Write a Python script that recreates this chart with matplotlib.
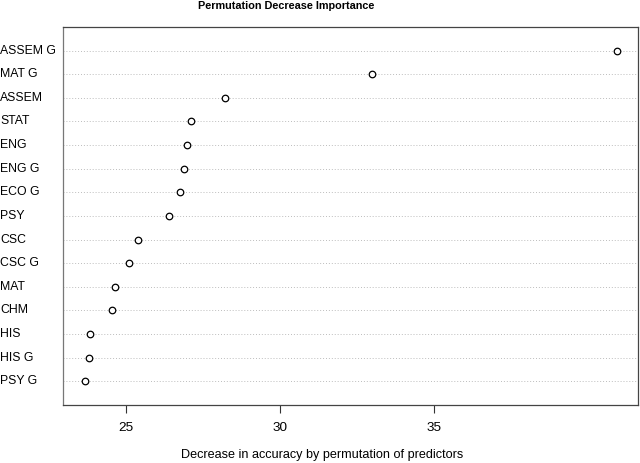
import numpy as np
import matplotlib
matplotlib.use("Agg")
import matplotlib.pyplot as plt
from matplotlib.transforms import blended_transform_factory

plt.rcParams['font.family'] = ['Liberation Sans', 'DejaVu Sans']

predictors = ['ASSEM G', 'MAT G', 'ASSEM', 'STAT', 'ENG', 'ENG G', 'ECO G', 'PSY',
              'CSC', 'CSC G', 'MAT', 'CHM', 'HIS', 'HIS G', 'PSY G']
importance = [40.93, 32.97, 28.22, 27.09, 26.97, 26.87, 26.73, 26.40,
              25.39, 25.08, 24.64, 24.52, 23.81, 23.78, 23.65]
xticks = [25, 30, 35]

n = len(predictors)
ypos = np.arange(n, 0, -1)

fig = plt.figure(figsize=(6.4, 4.63), dpi=100)
ax = fig.add_axes([0.0992, 0.1253, 0.8978, 0.8164])

# dotted guide lines like R's dotchart
for y in ypos:
    ax.axhline(y, color='#bdbdbd', linestyle=(0, (1, 2)), linewidth=0.7, zorder=1)

ax.scatter(importance, ypos, s=22, facecolors='white', edgecolors='black',
           linewidths=0.9, zorder=3)

lo, hi = min(importance), max(importance)
pad = 0.04 * (hi - lo)
ax.set_xlim(lo - pad, hi + pad)
ax.set_ylim(0, n + 1)

ax.set_xticks(xticks)
ax.set_xticklabels([str(t) for t in xticks], fontsize=9.7)
ax.tick_params(axis='x', length=6, width=0.8, pad=6, color='#333333')
ax.set_yticks([])
trans = blended_transform_factory(fig.transFigure, ax.transData)
for y, lab in zip(ypos, predictors):
    ax.text(0.0, y, lab, transform=trans, ha='left', va='center', fontsize=8.8)

for sp in ax.spines.values():
    sp.set_linewidth(0.9)
    sp.set_color('#444444')
ax.spines['left'].set_color('#777777')

fig.text(322.5 / 640, 1 - 455 / 463, 'Decrease in accuracy by permutation of predictors',
         ha='center', va='center', fontsize=9.1)
fig.text(286 / 640, 1 - 6 / 463, 'Permutation Decrease Importance',
         ha='center', va='center', fontsize=7.8, fontweight='bold')

plt.savefig('out.png', dpi=100)
